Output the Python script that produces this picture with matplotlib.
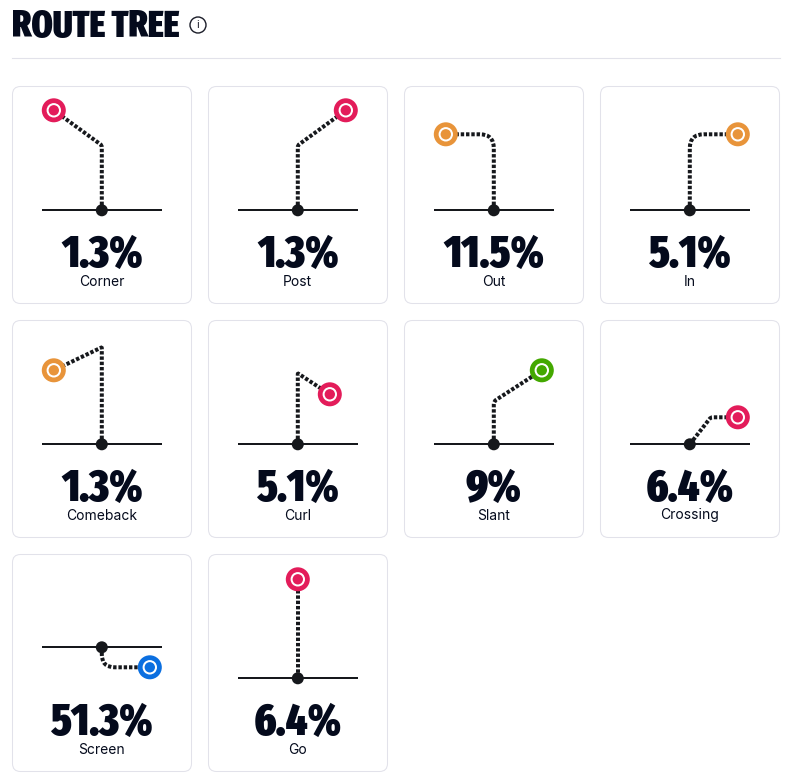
import matplotlib
matplotlib.use("Agg")
import matplotlib.pyplot as plt
from matplotlib.patches import FancyBboxPatch, Circle, PathPatch
from matplotlib.path import Path
import numpy as np

labels = ["Corner","Post","Out","In","Comeback","Curl","Slant","Crossing","Screen","Go"]
values = ["1.3%","1.3%","11.5%","5.1%","1.3%","5.1%","9%","6.4%","51.3%","6.4%"]
RED, ORANGE, GREEN, BLUE = "#E31C5A", "#E8943A", "#43A800", "#0B6FE0"
colors = [RED,RED,ORANGE,ORANGE,ORANGE,RED,GREEN,RED,BLUE,RED]
# route shapes: (dx, dy) from line of scrimmage, y positive down, px
routes = [
 [(0,0),(0,-65),(-48,-100)],
 [(0,0),(0,-65),(48,-100)],
 [(0,0),(0,-76),(-48,-76)],
 [(0,0),(0,-76),(48,-76)],
 [(0,0),(0,-97),(-48,-74)],
 [(0,0),(0,-71),(32,-50)],
 [(0,0),(0,-43),(48,-74)],
 [(0,0),(21,-27),(48,-27)],
 [(0,0),(0,20),(48,20)],
 [(0,0),(0,-99)],
]
radii = [2,2,14,14,1,1,3,2,13,0]
card_x = [12,208,404,600]*2 + [12,208]
card_y = [86]*4 + [320]*4 + [554]*2
line_off = [124]*8 + [93,124]

DARK = "#040A1C"; LINE = "#16181C"; BORDER = "#E2E2EA"
HEAVY = ["Fira Sans Extra Condensed","Liberation Sans"]
fig = plt.figure(figsize=(7.87,7.73), dpi=100, facecolor="white")
ax = fig.add_axes([0,0,1,1])
ax.set_xlim(0,787); ax.set_ylim(773,0); ax.axis("off")
PX = 0.72

def rounded(pts, r):
    verts=[pts[0]]; codes=[Path.MOVETO]
    for i in range(1,len(pts)-1):
        p=np.array(pts[i],float); a=np.array(pts[i-1],float); b=np.array(pts[i+1],float)
        u=(a-p)/np.linalg.norm(a-p); v=(b-p)/np.linalg.norm(b-p)
        verts+= [tuple(p+u*r), tuple(p), tuple(p+v*r)]
        codes+= [Path.LINETO, Path.CURVE3, Path.CURVE3]
    verts.append(pts[-1]); codes.append(Path.LINETO)
    return Path(verts,codes)

ax.text(12,37.5,"ROUTE TREE",family=HEAVY,fontweight="black",fontsize=26.5,
        color=DARK,va="baseline",ha="left")
ax.add_patch(Circle((198,25),8,fc="white",ec="#1a1c28",lw=1.0))
ax.text(198,25.5,"i",family="Inter",fontsize=8,color="#1a1c28",ha="center",va="center")
ax.plot([12,780],[57.5,57.5],color=BORDER,lw=0.8)

CW, CH = 179, 217
for lab,val,col,rt,r,cx,cy,lo in zip(labels,values,colors,routes,radii,card_x,card_y,line_off):
    ax.add_patch(FancyBboxPatch((cx+6.5,cy+6.5),CW-12,CH-12,boxstyle="round,pad=6,rounding_size=8",
                 fc="white",ec=BORDER,lw=0.75,mutation_aspect=1))
    ox,oy = cx+89.8, cy+lo+0.3
    ax.plot([ox-60,ox+60],[oy,oy],color=LINE,lw=2*PX,solid_capstyle="butt",zorder=2)
    pts=[(ox+a,oy+b) for a,b in rt]
    ax.add_patch(PathPatch(rounded(pts,r),fc="none",ec=LINE,lw=4*PX,
                 linestyle=(0,(0.85,0.47)),capstyle="butt",zorder=3))
    ax.add_patch(Circle((ox,oy),6,fc=LINE,ec="none",zorder=4))
    ex,ey=pts[-1]
    ax.add_patch(Circle((ex,ey),12,fc=col,ec="none",zorder=5))
    ax.add_patch(Circle((ex,ey),6.2,fc=col,ec="white",lw=2*PX,zorder=6))
    ax.text(ox,cy+180.5,val,family=HEAVY,fontweight="black",fontsize=32,
            color=DARK,ha="center",va="baseline")
    ax.text(ox,cy+199.5,lab,family="Inter",fontsize=10,color=DARK,ha="center",va="baseline")
fig.savefig("out.png",dpi=100,facecolor="white")
